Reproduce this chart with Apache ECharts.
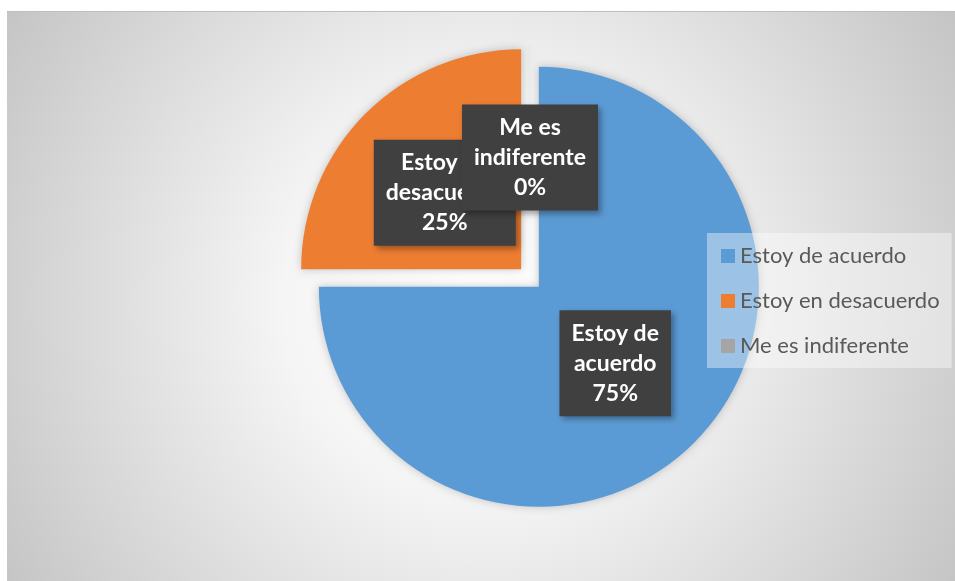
<!DOCTYPE html>
<html>
<head>
<meta charset="utf-8">
<script src="https://cdn.jsdelivr.net/npm/echarts@6/dist/echarts.min.js"></script>
<style>
  html, body { margin: 0; padding: 0; background: #fff; }
  #main { width: 955px; height: 581px; }
</style>
</head>
<body>
<div id="main"></div>
<script>
// categorías y valores (%)
var categories = ['Estoy de acuerdo', 'Estoy en desacuerdo', 'Me es indiferente'];
var values = [75, 25, 0];
var colors = ['#5B9BD5', '#ED7D31', '#A5A5A5'];

var pieCenter = [530, 278];

var myChart = echarts.init(document.getElementById('main'));

var data = categories.map(function (name, i) {
    return {
        name: name,
        value: values[i],
        selected: true,
        itemStyle: { color: colors[i] }
    };
});

var option = {
    animation: false,
    graphic: [
        {
            type: 'rect',
            shape: { x: 7, y: 11, width: 948, height: 570 },
            style: {
                fill: {
                    type: 'radial', x: 480, y: 300, r: 560, global: true,
                    colorStops: [
                        { offset: 0, color: '#ffffff' },
                        { offset: 0.35, color: '#f5f5f5' },
                        { offset: 1, color: '#c4c4c4' }
                    ]
                }
            },
            z: -10
        },
        {
            type: 'line',
            shape: { x1: 7, y1: 11.5, x2: 955, y2: 11.5 },
            style: { stroke: '#bdbdbd', lineWidth: 1 },
            z: -9
        }
    ],
    legend: {
        orient: 'vertical',
        left: 707,
        top: 233,
        padding: [11, 12, 10, 14],
        backgroundColor: 'rgba(255,255,255,0.4)',
        icon: 'rect',
        itemWidth: 14,
        itemHeight: 14,
        itemGap: 21,
        selectedMode: false,
        textStyle: {
            color: '#595959',
            fontSize: 22,
            lineHeight: 24,
            fontFamily: 'Lato'
        },
        data: categories
    },
    series: [
        {
            type: 'pie',
            center: pieCenter,
            radius: 220,
            startAngle: 90,
            clockwise: true,
            minAngle: 0.01,
            selectedMode: 'multiple',
            selectedOffset: 12.5,
            avoidLabelOverlap: false,
            // acercar un poco las etiquetas al centro
            labelLayout: function (p) {
                var r = p.labelRect;
                var dx = pieCenter[0] - (r.x + r.width / 2);
                var dy = pieCenter[1] - (r.y + r.height / 2);
                var d = Math.sqrt(dx * dx + dy * dy) || 1;
                return { dx: dx / d * 5, dy: dy / d * 5, hideOverlap: false };
            },
            itemStyle: {
                shadowBlur: 8,
                shadowColor: 'rgba(0,0,0,0.22)'
            },
            emphasis: { scale: false },
            select: { itemStyle: { borderWidth: 0 } },
            label: {
                show: true,
                position: 'inside',
                formatter: function (p) {
                    return p.name.replace(/ (\S+)$/, '\n$1') + '\n' + p.value + '%';
                },
                color: '#ffffff',
                fontFamily: 'Lato',
                fontWeight: 'bold',
                fontSize: 23,
                lineHeight: 30,
                backgroundColor: '#404040',
                padding: [8, 12],
                shadowBlur: 6,
                shadowOffsetX: 3,
                shadowOffsetY: 3,
                shadowColor: 'rgba(0,0,0,0.35)'
            },
            labelLine: { show: false },
            data: data
        }
    ]
};

myChart.setOption(option);
</script>
</body>
</html>
